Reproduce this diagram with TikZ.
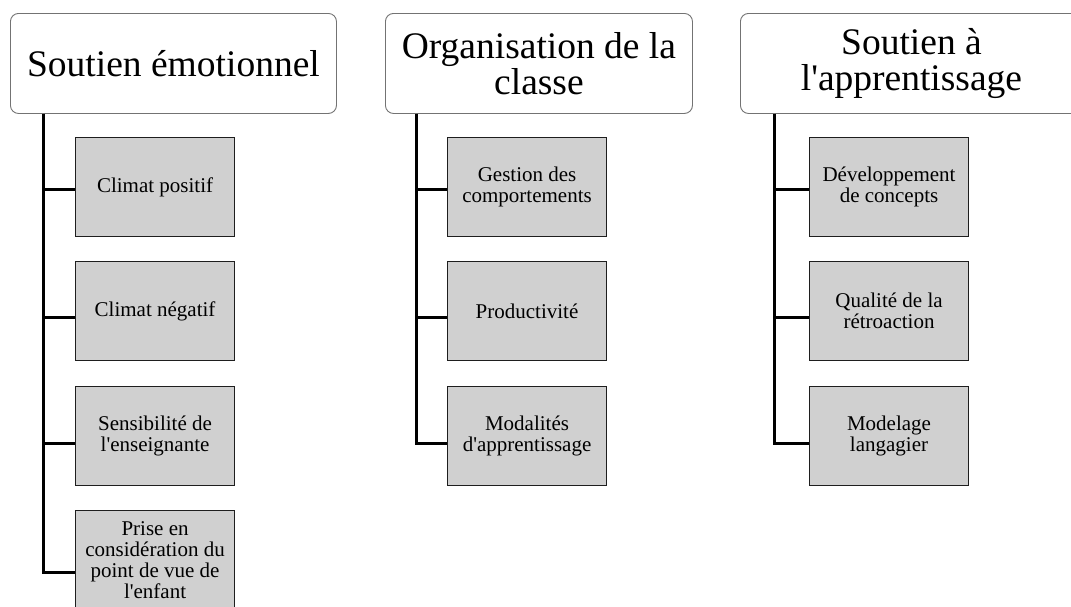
\documentclass[tikz,border=0pt]{standalone}
\usepackage{fontspec}
\setmainfont{Liberation Serif}
\definecolor{boxfill}{RGB}{208,208,208}
\definecolor{boxedge}{RGB}{30,30,30}
\definecolor{hdredge}{RGB}{115,115,115}
\newcommand{\apos}{\textquotesingle}
\tikzset{
  hdr/.style={draw=hdredge, line width=0.9pt, rounded corners=8pt, fill=white,
    anchor=north west, inner sep=0pt, minimum height=100pt, align=center,
    font=\fontsize{37.5}{36}\selectfont},
  leaf/.style={draw=boxedge, line width=1.1pt, fill=boxfill, anchor=north west,
    inner sep=0pt, minimum width=159pt, minimum height=99pt, align=center,
    font=\fontsize{21}{21}\selectfont},
  conn/.style={draw=black, line width=3pt}
}
\begin{document}
\begin{tikzpicture}[x=1pt,y=-1pt]
\useasboundingbox (0,0) rectangle (1071,606);
\clip (0,0) rectangle (1071,606);
% headers
\node[hdr, minimum width=326pt] (h1) at (10,13) {Soutien émotionnel};
\node[hdr, minimum width=307pt] (h2) at (385,13) {Organisation de la\\classe};
\node[hdr, minimum width=342pt] (h3) at (740,13) {Soutien à\\l\apos apprentissage};
% column 1
\node[leaf] (a1) at (75,137) {Climat positif};
\node[leaf] (a2) at (75,261) {Climat négatif};
\node[leaf] (a3) at (75,386) {Sensibilité de\\l\apos enseignante};
\node[leaf] (a4) at (75,510) {Prise en\\considération du\\point de vue de\\l\apos enfant};
% column 2
\node[leaf] (b1) at (447,137) {Gestion des\\comportements};
\node[leaf] (b2) at (447,261) {Productivité};
\node[leaf] (b3) at (447,386) {Modalités\\d\apos apprentissage};
% column 3
\node[leaf] (c1) at (809,137) {Développement\\de concepts};
\node[leaf] (c2) at (809,261) {Qualité de la\\rétroaction};
\node[leaf] (c3) at (809,386) {Modelage\\langagier};
% trunk tops
\coordinate (t1) at ([xshift=33pt]h1.south west);
\coordinate (t2) at ([xshift=31pt]h2.south west);
\coordinate (t3) at ([xshift=34pt]h3.south west);
% connectors
\draw[conn] (t1) |- ([yshift=-2.5pt]a1.west);
\draw[conn] (t1) |- ([yshift=-6.5pt]a2.west);
\draw[conn] (t1) |- ([yshift=-7.5pt]a3.west);
\draw[conn] (t1) |- ([yshift=-12.5pt]a4.west);
\draw[conn] (t2) |- ([yshift=-2.5pt]b1.west);
\draw[conn] (t2) |- ([yshift=-6.5pt]b2.west);
\draw[conn] (t2) |- ([yshift=-7pt]b3.west);
\draw[conn] (t3) |- ([yshift=-2.5pt]c1.west);
\draw[conn] (t3) |- ([yshift=-6.5pt]c2.west);
\draw[conn] (t3) |- ([yshift=-7pt]c3.west);
\end{tikzpicture}
\end{document}
